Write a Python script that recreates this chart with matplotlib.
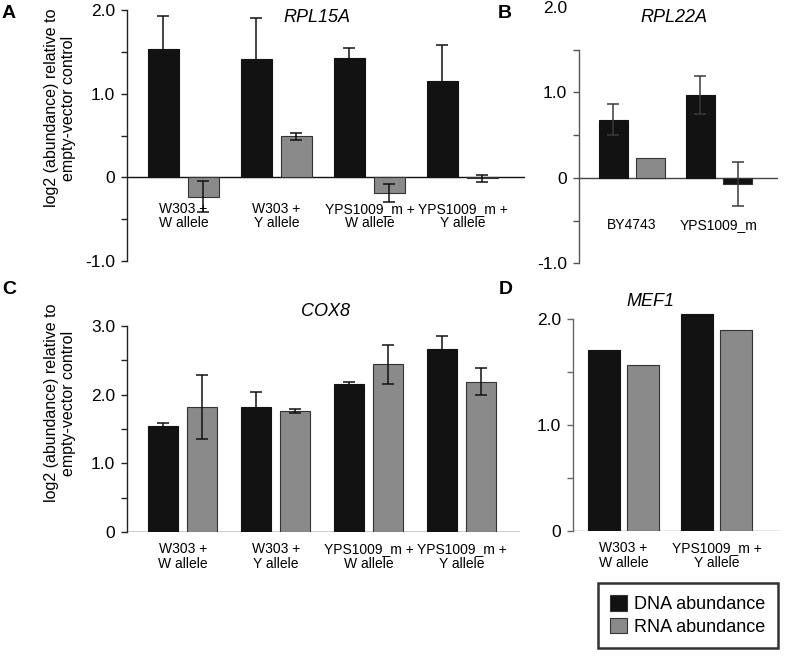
import numpy as np
import matplotlib
matplotlib.use("Agg")
import matplotlib.pyplot as plt
from matplotlib.patches import Patch

plt.rcParams['font.family'] = ['Liberation Sans', 'DejaVu Sans']

# panel A - RPL15A
groups_a = ["W303 +\nW allele", "W303 +\nY allele", "YPS1009_m +\nW allele", "YPS1009_m +\nY allele"]
rpl15a_dna = [1.53, 1.41, 1.43, 1.15]
rpl15a_dna_err = [0.40, 0.49, 0.12, 0.43]
rpl15a_rna = [-0.23, 0.49, -0.19, -0.01]
rpl15a_rna_err = [0.19, 0.045, 0.11, 0.04]

# panel B - RPL22A
groups_b = ["BY4743", "YPS1009_m"]
rpl22a_dna = [0.68, 0.97]
rpl22a_dna_err = [0.18, 0.22]
rpl22a_rna = [0.23, -0.07]
rpl22a_rna_err = [0.0, 0.26]

# panel C - COX8
groups_c = groups_a
cox8_dna = [1.54, 1.82, 2.15, 2.67]
cox8_dna_err = [0.05, 0.22, 0.03, 0.19]
cox8_rna = [1.82, 1.76, 2.44, 2.19]
cox8_rna_err = [0.47, 0.03, 0.28, 0.20]

# panel D - MEF1
groups_d = ["W303 +\nW allele", "YPS1009_m +\nY allele"]
mef1_dna = [1.71, 2.05]
mef1_rna = [1.57, 1.90]

BLACK = "#121212"
GREY = "#8a8a8a"
W, H = 785, 658


def px_axes(left, right, top, bottom):
    # pixel box -> figure fraction
    return [left / W, 1 - bottom / H, (right - left) / W, (bottom - top) / H]


def style_axis(ax, spine_col, lo, hi, majors, labels, minors):
    for s in ['top', 'right', 'bottom']:
        ax.spines[s].set_visible(False)
    ax.spines['left'].set_color(spine_col)
    ax.spines['left'].set_linewidth(1.0)
    ax.spines['left'].set_bounds(lo, hi)
    ax.set_yticks(majors)
    ax.set_yticklabels(labels)
    ax.set_yticks(minors, minor=True)
    ax.tick_params(axis='y', which='both', direction='out', length=4.5, width=1.0,
                   color=spine_col, labelsize=12.5, pad=4)
    ax.set_xticks([])


def draw_bars(ax, dna, rna, dna_err, rna_err, width, off, err_col, rna_cols=None):
    x = np.arange(len(dna))
    if rna_cols is None:
        rna_cols = [GREY] * len(rna)
    ax.bar(x - off, dna, width, color=BLACK, edgecolor=BLACK, linewidth=0.8, zorder=2)
    ax.bar(x + off, rna, width, color=rna_cols, edgecolor="#333333", linewidth=0.8, zorder=2)
    if dna_err is not None:
        for xi, v, e in zip(x - off, dna, dna_err):
            if e > 0:
                ax.errorbar(xi, v, yerr=e, fmt='none', ecolor=err_col, elinewidth=1.1,
                            capsize=4.5, capthick=1.1, zorder=3)
        for xi, v, e in zip(x + off, rna, rna_err):
            if e > 0:
                ax.errorbar(xi, v, yerr=e, fmt='none', ecolor=err_col, elinewidth=1.1,
                            capsize=4.5, capthick=1.1, zorder=3)


def group_labels(ax, labels, dy, fs=10):
    for i, lab in enumerate(labels):
        ax.annotate(lab, xy=(i, 0), xycoords='data', xytext=(0, dy), textcoords='offset points',
                    ha='center', va='top', fontsize=fs, linespacing=1.05, annotation_clip=False)


fig = plt.figure(figsize=(W / 100, H / 100), dpi=100)

# ---- A ----
axA = fig.add_axes(px_axes(127, 525, 10, 261))
draw_bars(axA, rpl15a_dna, rpl15a_rna, rpl15a_dna_err, rpl15a_rna_err, 0.333, 0.215, "#111111")
axA.axhline(0, color="#111111", lw=1.0, zorder=1)
axA.set_xlim(-0.607, 3.672)
axA.set_ylim(-1, 2)
style_axis(axA, "#222222", -1, 2, [-1, 0, 1, 2], ["-1.0", "0", "1.0", "2.0"], [-0.5, 0.5, 1.5])
group_labels(axA, groups_a, -17.5)
fig.text(317 / W, 1 - 17 / H, "RPL15A", style='italic', fontsize=13, ha='center', va='center')

# ---- B ----
axB = fig.add_axes(px_axes(579, 778, 7, 263.5))
draw_bars(axB, rpl22a_dna, rpl22a_rna, rpl22a_dna_err, rpl22a_rna_err, 0.333, 0.215, "#3a3a3a",
          rna_cols=[GREY, BLACK])
axB.axhline(0, color="#444444", lw=1.0, zorder=1)
axB.set_xlim(-0.609, 1.678)
axB.set_ylim(-1, 2)
style_axis(axB, "#555555", -1, 1.5, [-1, 0, 1, 2], ["-1.0", "0", "1.0", "2.0"], [-0.5, 0.5, 1.5])
axB.yaxis.get_major_ticks()[-1].tick1line.set_visible(False)
group_labels(axB, groups_b, -28.5)
fig.text(674 / W, 1 - 17 / H, "RPL22A", style='italic', fontsize=13, ha='center', va='center')

# ---- C ----
axC = fig.add_axes(px_axes(127, 520, 326, 532))
draw_bars(axC, cox8_dna, cox8_rna, cox8_dna_err, cox8_rna_err, 0.323, 0.21, "#111111")
axC.axhline(0, color="#111111", lw=1.0, zorder=1)
axC.set_xlim(-0.603, 3.63)
axC.set_ylim(0, 3)
style_axis(axC, "#222222", 0, 3, [0, 1, 2, 3], ["0", "1.0", "2.0", "3.0"], [0.5, 1.5, 2.5])
group_labels(axC, groups_c, -7.5)
fig.text(325 / W, 1 - 312 / H, "COX8", style='italic', fontsize=13, ha='center', va='center')

# ---- D ----
axD = fig.add_axes(px_axes(573, 780, 531 - 2.1 * 106, 531))
draw_bars(axD, mef1_dna, mef1_rna, None, None, 0.344, 0.21, "#111111")
axD.axhline(0, color="#8a8a8a", lw=1.0, zorder=1)
axD.set_xlim(-0.543, 1.683)
axD.set_ylim(0, 2.1)
style_axis(axD, "#666666", 0, 2, [0, 1, 2], ["0", "1.0", "2.0"], [0.5, 1.5])
group_labels(axD, groups_d, -7.5)
fig.text(650 / W, 1 - 302 / H, "MEF1", style='italic', fontsize=13, ha='center', va='center')

# y labels
ylab = "log2 (abundance) relative to\nempty-vector control"
fig.text(60 / W, 1 - 108 / H, ylab, rotation=90, fontsize=11.5, ha='center', va='center', linespacing=1.1)
fig.text(60 / W, 1 - 403 / H, ylab, rotation=90, fontsize=11.5, ha='center', va='center', linespacing=1.1)

# panel letters
for lab, (x, y) in {"A": (2, 14), "B": (498, 13), "C": (2, 289), "D": (499, 289)}.items():
    fig.text(x / W, 1 - y / H, lab, fontsize=14, fontweight='bold', ha='left', va='center')

# legend
handles = [Patch(facecolor=BLACK, edgecolor="#333333", linewidth=0.8),
           Patch(facecolor=GREY, edgecolor="#333333", linewidth=0.8)]
leg = fig.legend(handles, ["DNA abundance", "RNA abundance"], loc='center',
                 bbox_to_anchor=(687.5 / W, 1 - 615.5 / H), fontsize=13, frameon=True,
                 fancybox=False, edgecolor='black', handlelength=0.95, handleheight=0.95,
                 handletextpad=0.35, labelspacing=0.25, borderpad=0.7, borderaxespad=0)
leg.get_frame().set_linewidth(1.8)

fig.savefig("out.png", dpi=100)
